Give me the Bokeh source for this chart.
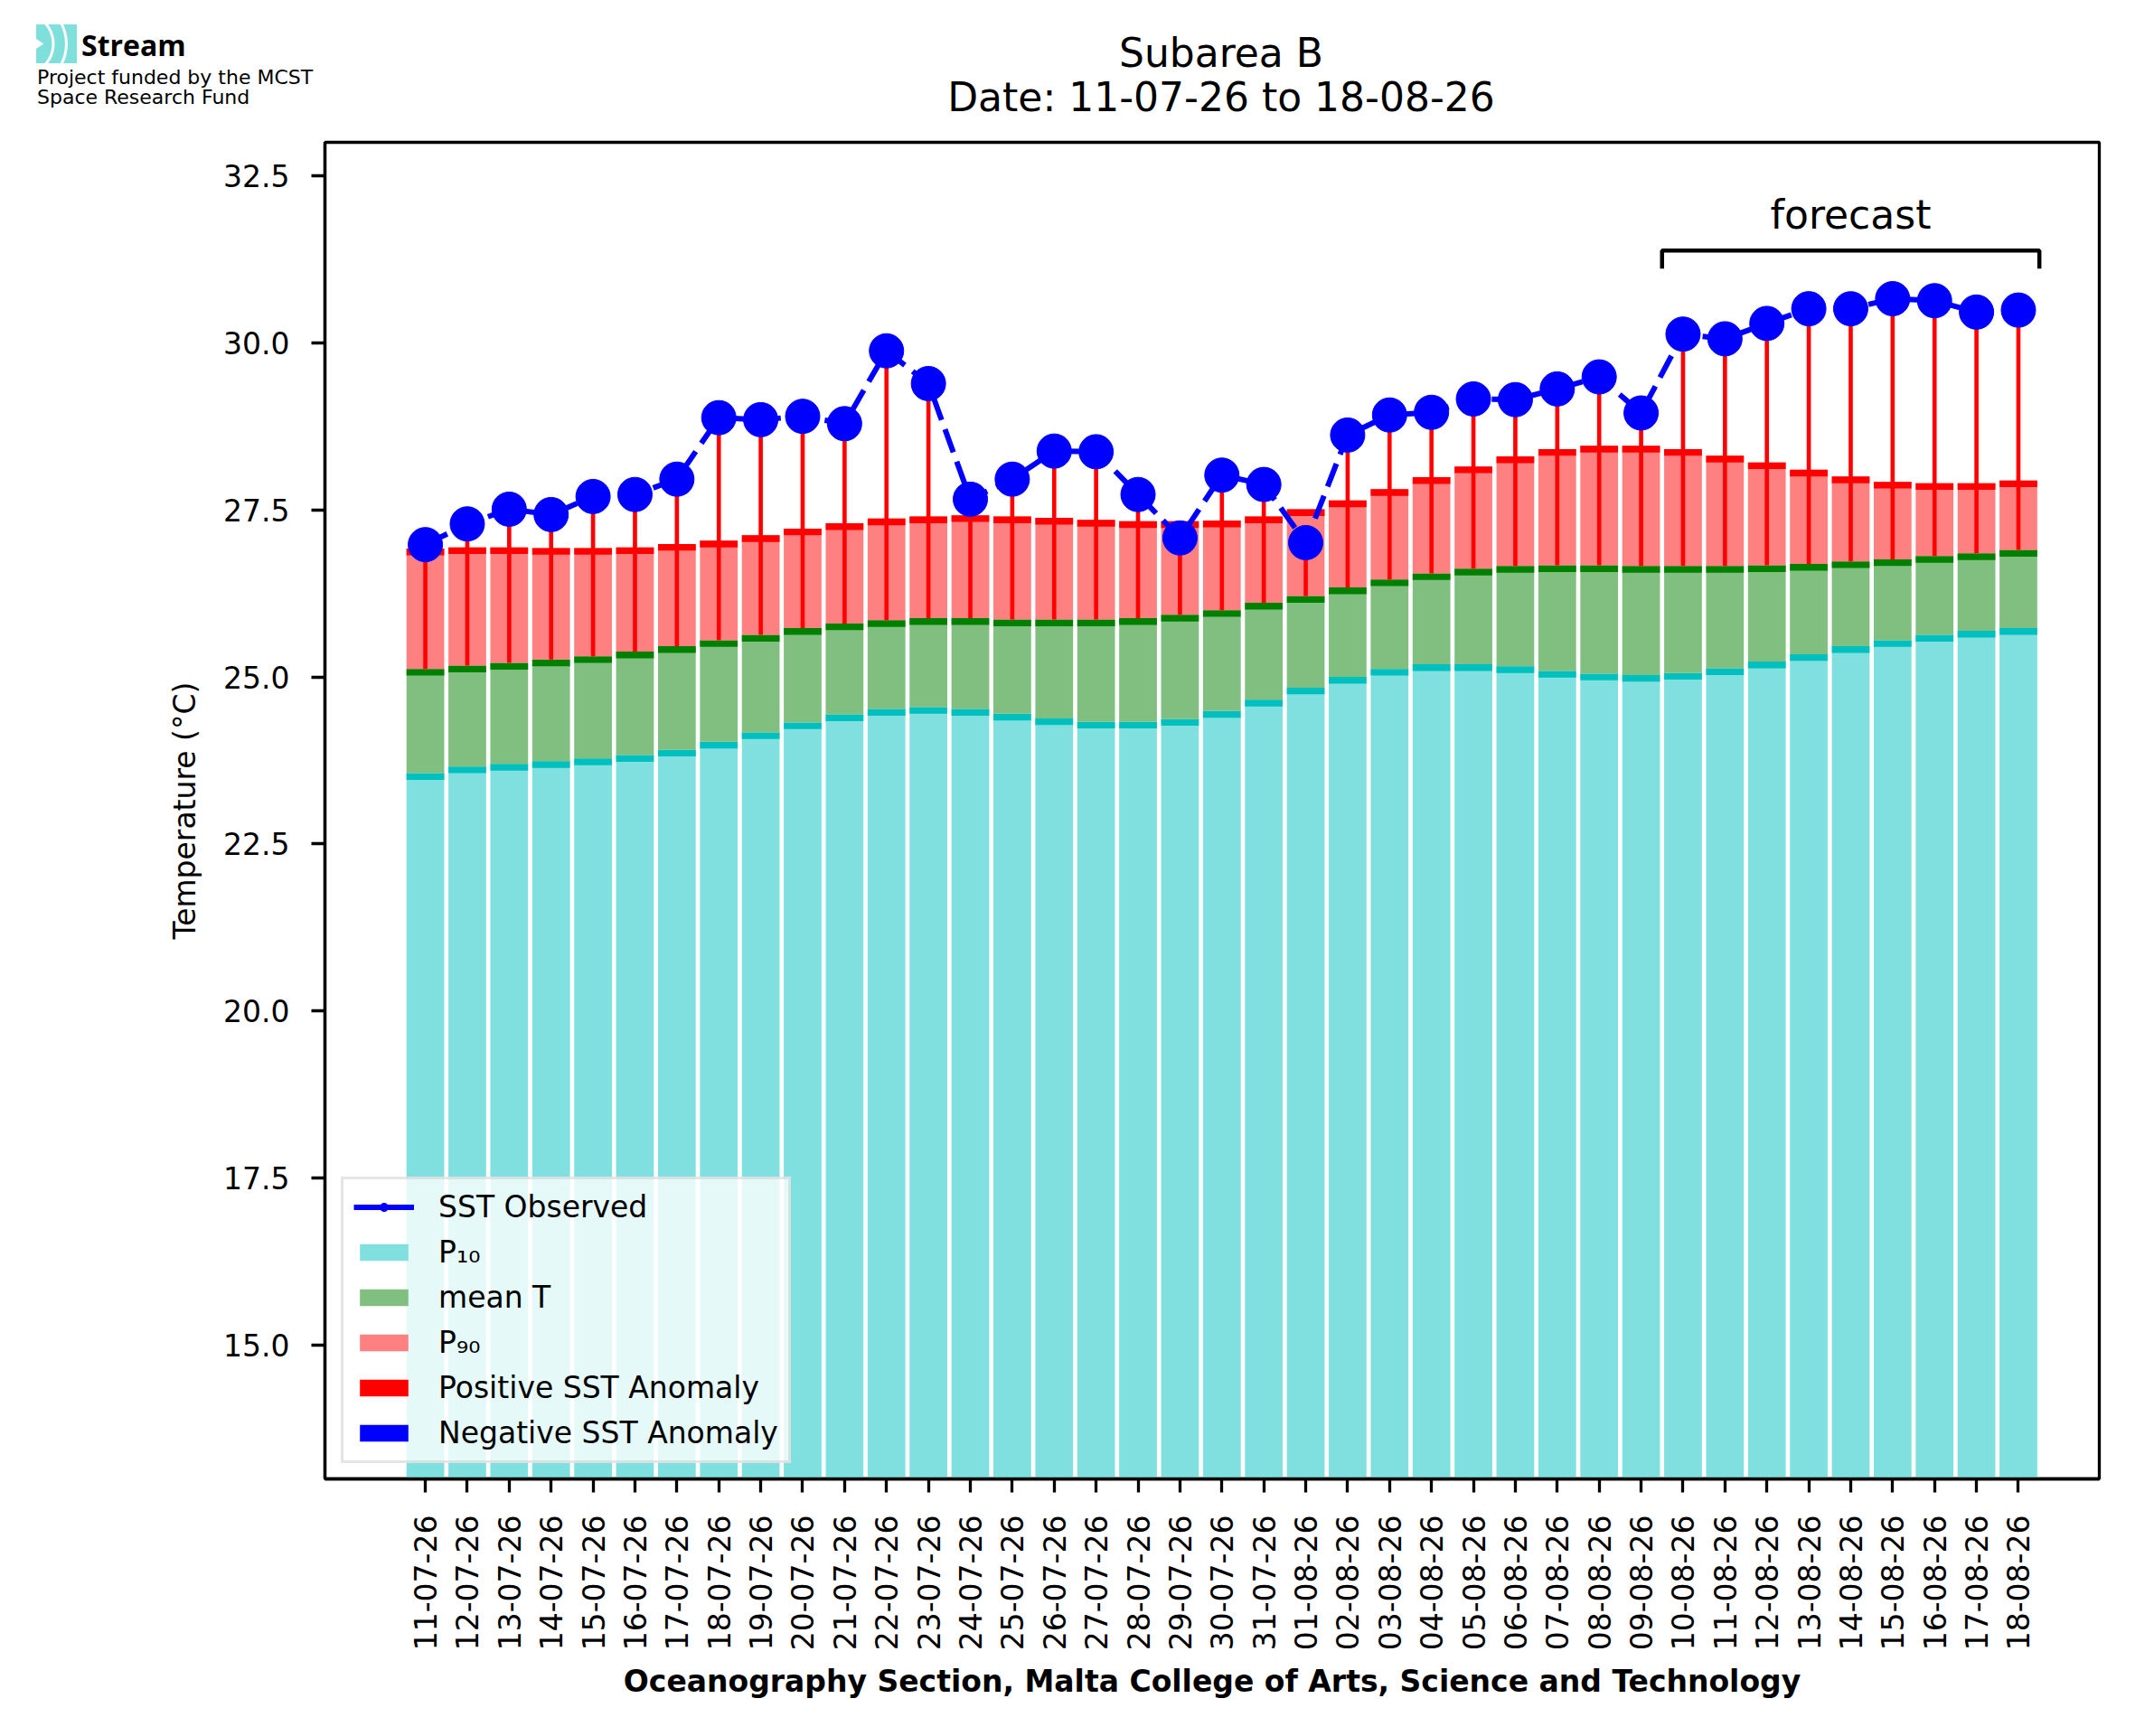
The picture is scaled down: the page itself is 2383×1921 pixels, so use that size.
import math
import numpy as np
from bokeh.plotting import figure
from bokeh.layouts import column
from bokeh.models import (Label, Legend, LegendItem, FixedTicker, SingleIntervalTicker,
                          NumeralTickFormatter, Range1d, Div)
from bokeh.embed import file_html
from bokeh.resources import INLINE

# ---- data ----
dates = ["11-07-26", "12-07-26", "13-07-26", "14-07-26", "15-07-26", "16-07-26", "17-07-26",
         "18-07-26", "19-07-26", "20-07-26", "21-07-26", "22-07-26", "23-07-26", "24-07-26",
         "25-07-26", "26-07-26", "27-07-26", "28-07-26", "29-07-26", "30-07-26", "31-07-26",
         "01-08-26", "02-08-26", "03-08-26", "04-08-26", "05-08-26", "06-08-26", "07-08-26",
         "08-08-26", "09-08-26", "10-08-26", "11-08-26", "12-08-26", "13-08-26", "14-08-26",
         "15-08-26", "16-08-26", "17-08-26", "18-08-26"]

p10 = [23.56, 23.66, 23.70, 23.74, 23.78, 23.83, 23.91, 24.03, 24.17, 24.32,
       24.44, 24.52, 24.55, 24.52, 24.45, 24.38, 24.33, 24.33, 24.37, 24.49,
       24.66, 24.84, 25.00, 25.12, 25.19, 25.19, 25.16, 25.09, 25.05, 25.03,
       25.06, 25.13, 25.23, 25.34, 25.46, 25.55, 25.63, 25.69, 25.73]

mean_t = [25.12, 25.17, 25.21, 25.26, 25.31, 25.38, 25.46, 25.55, 25.63, 25.73,
          25.80, 25.85, 25.88, 25.88, 25.86, 25.86, 25.86, 25.88, 25.93, 26.00,
          26.11, 26.21, 26.34, 26.46, 26.55, 26.62, 26.66, 26.67, 26.67, 26.66,
          26.66, 26.66, 26.67, 26.69, 26.73, 26.76, 26.81, 26.85, 26.90]

p90 = [26.92, 26.94, 26.94, 26.93, 26.93, 26.94, 26.99, 27.04, 27.12, 27.22,
       27.30, 27.37, 27.40, 27.42, 27.40, 27.38, 27.35, 27.33, 27.33, 27.34,
       27.40, 27.51, 27.64, 27.81, 27.99, 28.15, 28.30, 28.41, 28.46, 28.46,
       28.41, 28.31, 28.21, 28.10, 28.00, 27.92, 27.90, 27.90, 27.94]

sst_obs = [26.98, 27.29, 27.51, 27.43, 27.70, 27.73, 27.96, 28.88, 28.85, 28.90,
           28.79, 29.88, 29.39, 27.66, 27.96, 28.38, 28.37, 27.73, 27.08, 28.02,
           27.88, 27.01, 28.62, 28.92, 28.96, 29.16, 29.15, 29.31, 29.49, 28.95,
           30.13, 30.06, 30.29, 30.51, 30.51, 30.66, 30.63, 30.46, 30.49]

forecast_start = "10-08-26"
title = "Subarea B"
subtitle = "Date: %s to %s" % (dates[0], dates[-1])

x = np.arange(len(dates))
p10 = np.array(p10)
mean_t = np.array(mean_t)
p90 = np.array(p90)
sst_obs = np.array(sst_obs)

BAND = 0.1   # thickness of the dark strip on top of each stacked bar
W = 0.9
HEAD = 147   # height of the header strip (logo + title)

p = figure(frame_width=1963, frame_height=1479,
           min_border_left=359, min_border_right=52, min_border_top=157 - HEAD,
           min_border_bottom=277,
           x_range=Range1d(-2.395, len(dates) - 1 + 1.93), y_range=Range1d(13, 33),
           output_backend="svg", toolbar_location=None, tools="")
p.background_fill_color = "white"
p.border_fill_color = "white"
p.grid.visible = False
p.outline_line_color = "black"
p.outline_line_width = 3.3

# stacked bars
r_p10 = p.vbar(x=x, bottom=0, top=p10, width=W, fill_color="#80DFDF", line_color=None)
p.vbar(x=x, bottom=p10 - BAND, top=p10, width=W, fill_color="#00BFBF", line_color=None)
r_mean = p.vbar(x=x, bottom=p10, top=mean_t, width=W, fill_color="#80BF80", line_color=None)
p.vbar(x=x, bottom=mean_t - BAND, top=mean_t, width=W, fill_color="#008000", line_color=None)
r_p90 = p.vbar(x=x, bottom=mean_t, top=p90, width=W, fill_color="#FF8080", line_color=None)
p.vbar(x=x, bottom=p90 - BAND, top=p90, width=W, fill_color="#FF0000", line_color=None)

# anomaly sticks (zero height where the sign does not match)
r_pos = p.vbar(x=x, bottom=mean_t, top=np.maximum(sst_obs, mean_t), width=0.1,
               fill_color="#FF0000", line_color=None)
r_neg = p.vbar(x=x, bottom=np.minimum(sst_obs, mean_t), top=mean_t, width=0.1,
               fill_color="#0000FF", line_color=None)

# observed SST
r_line = p.line(x, sst_obs, line_color="#0000FF", line_width=6, line_dash="27 11")
r_dot = p.scatter(x, sst_obs, marker="circle", size=38, fill_color="#0000FF", line_color="#0000FF")
# solid copy, hidden, only used for the legend swatch
r_leg = p.line(x, sst_obs, line_color="#0000FF", line_width=6, visible=False)

# forecast bracket
i0 = dates.index(forecast_start) - 0.5
i1 = len(dates) - 0.5
p.line([i0, i0, i1, i1], [31.11, 31.38, 31.38, 31.11], line_color="black", line_width=4.5)
p.add_layout(Label(x=(i0 + i1) / 2, y=31.92, text="forecast", text_align="center",
                   text_baseline="alphabetic", text_font="DejaVu Sans", text_font_size="44px",
                   text_color="black"))

# axes
xa = p.xaxis[0]
xa.ticker = FixedTicker(ticks=list(x))
xa.major_label_overrides = {int(i): d for i, d in zip(x, dates)}
xa.major_label_orientation = math.pi / 2
xa.major_label_standoff = 25
xa.axis_label = "Oceanography Section, Malta College of Arts, Science and Technology"
xa.axis_label_text_font_style = "bold"
xa.axis_label_standoff = 12

ya = p.yaxis[0]
ya.ticker = SingleIntervalTicker(interval=2.5)
ya.formatter = NumeralTickFormatter(format="0.0")
ya.major_label_standoff = 24
ya.axis_label = "Temperature (°C)"
ya.axis_label_text_font_style = "normal"
ya.axis_label_standoff = 20

for ax in (xa, ya):
    ax.axis_line_width = 3.3
    ax.axis_line_color = "black"
    ax.major_tick_line_width = 3.3
    ax.major_tick_out = 15
    ax.major_tick_in = 0
    ax.minor_tick_out = 0
    ax.minor_tick_in = 0
    ax.major_label_text_font = "DejaVu Sans"
    ax.major_label_text_font_size = "33px"
    ax.major_label_text_color = "black"
    ax.axis_label_text_font = "DejaVu Sans"
    ax.axis_label_text_font_size = "33px"
    ax.axis_label_text_color = "black"

legend = Legend(items=[
    LegendItem(label="SST Observed", renderers=[r_leg, r_dot]),
    LegendItem(label="P₁₀", renderers=[r_p10]),
    LegendItem(label="mean T", renderers=[r_mean]),
    LegendItem(label="P₉₀", renderers=[r_p90]),
    LegendItem(label="Positive SST Anomaly", renderers=[r_pos]),
    LegendItem(label="Negative SST Anomaly", renderers=[r_neg]),
], location=(18, 17), glyph_width=67, glyph_height=23, label_standoff=27, spacing=11,
    padding=11, margin=0, label_text_font="DejaVu Sans", label_text_font_size="33px",
    label_text_color="black",
    border_line_color="#cccccc", border_line_width=3, background_fill_alpha=0.8)
p.add_layout(legend)

# header strip: logo at top left, two-line title centred over the frame
fw = 2374
cx = 1351
teal = "#7FDFDB"
dv = "font-family:'DejaVu Sans',sans-serif;"
ocx, ocy = -15, 21.5   # centre of the logo arcs, relative to the logo box
arcs = ""
for r in (34, 48.5):
    a = 1.1
    xa0, ya0 = ocx + r * math.cos(a), ocy - r * math.sin(a)
    xa1, ya1 = ocx + r * math.cos(a), ocy + r * math.sin(a)
    arcs += ('<path d="M %.1f %.1f A %.1f %.1f 0 0 1 %.1f %.1f" stroke="white" '
             'stroke-width="3" fill="none"/>' % (xa0, ya0, r, r, xa1, ya1))
head = f'''<svg xmlns="http://www.w3.org/2000/svg" width="{fw}" height="{HEAD}"
 style="display:block">
<g transform="translate(40,27)">
 <rect x="0" y="0" width="45" height="43" fill="{teal}"/>
 {arcs}
 <polygon points="0,16 8.3,21.5 0,27" fill="white"/>
</g>
<text x="90" y="61.7" style="font-family:'Open Sans',sans-serif;font-weight:bold;font-size:32px;fill:black">Stream</text>
<text x="41" y="93.3" style="{dv}font-size:22px;fill:black">Project funded by the MCST</text>
<text x="41" y="115" style="{dv}font-size:22px;fill:black">Space Research Fund</text>
<text x="{cx}" y="74" text-anchor="middle" style="{dv}font-size:44px;fill:black">{title}</text>
<text x="{cx}" y="122.7" text-anchor="middle" style="{dv}font-size:44px;fill:black">{subtitle}</text>
</svg>'''
header = Div(text=head, width=fw, height=HEAD, margin=0)

layout = column(header, p, spacing=0)
open("out.html", "w").write(file_html(layout, INLINE))
